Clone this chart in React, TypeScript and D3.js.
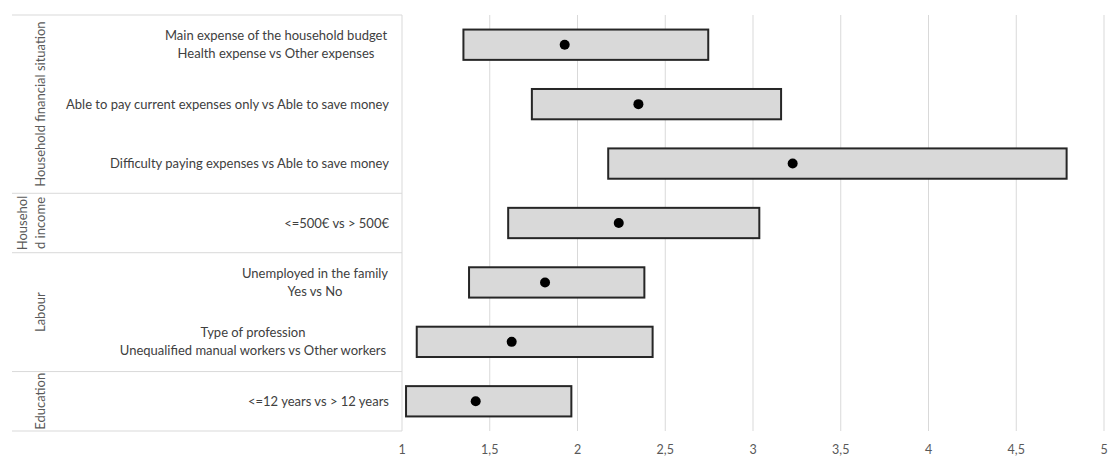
import React from "react";
import * as d3 from "d3";

const rowLabels: string[][] = [
  ["Main expense of the household budget", "Health expense vs Other expenses"],
  ["Able to pay current expenses only vs Able to save money"],
  ["Difficulty paying expenses vs Able to save money"],
  ["<=500€ vs > 500€"],
  ["Unemployed in the family", "Yes vs No"],
  ["Type of profession", "Unequalified manual workers vs Other workers"],
  ["<=12 years vs > 12 years"],
];
const lowerCI = [1.35, 1.74, 2.175, 1.605, 1.382, 1.084, 1.023];
const upperCI = [2.745, 3.16, 4.787, 3.036, 2.381, 2.428, 1.965];
const oddsRatio = [1.927, 2.347, 3.226, 2.235, 1.815, 1.625, 1.42];

const groupNames: string[][] = [
  ["Household financial situation"],
  ["Househol", "d income"],
  ["Labour"],
  ["Education"],
];
const groupSizes = [3, 1, 2, 1];
const xTicks = [1, 1.5, 2, 2.5, 3, 3.5, 4, 4.5, 5];

const W = 1111;
const H = 458;
const plotTop = 15;
const plotBottom = 431;
const tableLeft = 12;
const plotLeft = 402;
const plotRight = 1104;
const FONT = "Lato, 'Open Sans', sans-serif";

export default function App() {
  const x = d3.scaleLinear().domain([1, 5]).range([plotLeft, plotRight]);
  const y = d3
    .scaleBand<number>()
    .domain(d3.range(rowLabels.length))
    .range([plotTop, plotBottom])
    .paddingInner(0.49)
    .paddingOuter(0.245);
  const rowStep = (plotBottom - plotTop) / rowLabels.length;
  const rowCenter = (i: number) => plotTop + rowStep * (i + 0.5);

  const cum = groupSizes.reduce<number[]>((a, s) => [...a, a[a.length - 1] + s], [0]);
  const fmt = (v: number) => String(v).replace(".", ",");
  const multiCenter: Record<number, number> = { 0: 276, 4: 315, 5: 253 };

  return (
    <svg
      width={W}
      height={H}
      style={{ position: "absolute", left: 0, top: 0, background: "#fff" }}
      fontFamily={FONT}
    >
      {xTicks.slice(1).map((t) => (
        <line key={t} x1={x(t)} x2={x(t)} y1={plotTop} y2={plotBottom} stroke="#d9d9d9" strokeWidth={1} />
      ))}
      <line x1={plotLeft} x2={plotLeft} y1={plotTop} y2={plotBottom} stroke="#d9d9d9" />
      {cum.map((c, i) => (
        <line
          key={i}
          x1={tableLeft}
          x2={plotLeft}
          y1={plotTop + rowStep * c}
          y2={plotTop + rowStep * c}
          stroke="#d9d9d9"
        />
      ))}
      {groupNames.map((lines, gi) => {
        const cy = plotTop + rowStep * ((cum[gi] + cum[gi + 1]) / 2);
        const baseX = 40 - (lines.length - 1) * 18;
        return lines.map((ln, li) => (
          <text
            key={gi + "-" + li}
            transform={`translate(${baseX + li * 18 + 5},${cy}) rotate(-90)`}
            textAnchor="middle"
            fontSize={13}
            fill="#595959"
          >
            {ln}
          </text>
        ));
      })}
      {rowLabels.map((lines, i) =>
        lines.map((ln, li) => {
          const off = (li - (lines.length - 1) / 2) * 18;
          const multi = lines.length > 1;
          return (
            <text
              key={i + "-" + li}
              x={multi ? multiCenter[i] : 389}
              y={rowCenter(i) + off + 4.5}
              textAnchor={multi ? "middle" : "end"}
              fontSize={13}
              fill="#404040"
            >
              {ln}
            </text>
          );
        })
      )}
      {rowLabels.map((_, i) => (
        <g key={"b" + i}>
          <rect
            x={x(lowerCI[i])}
            y={y(i)!}
            width={x(upperCI[i]) - x(lowerCI[i])}
            height={y.bandwidth()}
            fill="#d9d9d9"
            stroke="#262626"
            strokeWidth={2}
          />
          <circle cx={x(oddsRatio[i])} cy={rowCenter(i)} r={5} fill="#000" />
        </g>
      ))}
      {xTicks.map((t) => (
        <text key={"t" + t} x={x(t)} y={454} textAnchor="middle" fontSize={12.5} fill="#595959">
          {fmt(t)}
        </text>
      ))}
    </svg>
  );
}
